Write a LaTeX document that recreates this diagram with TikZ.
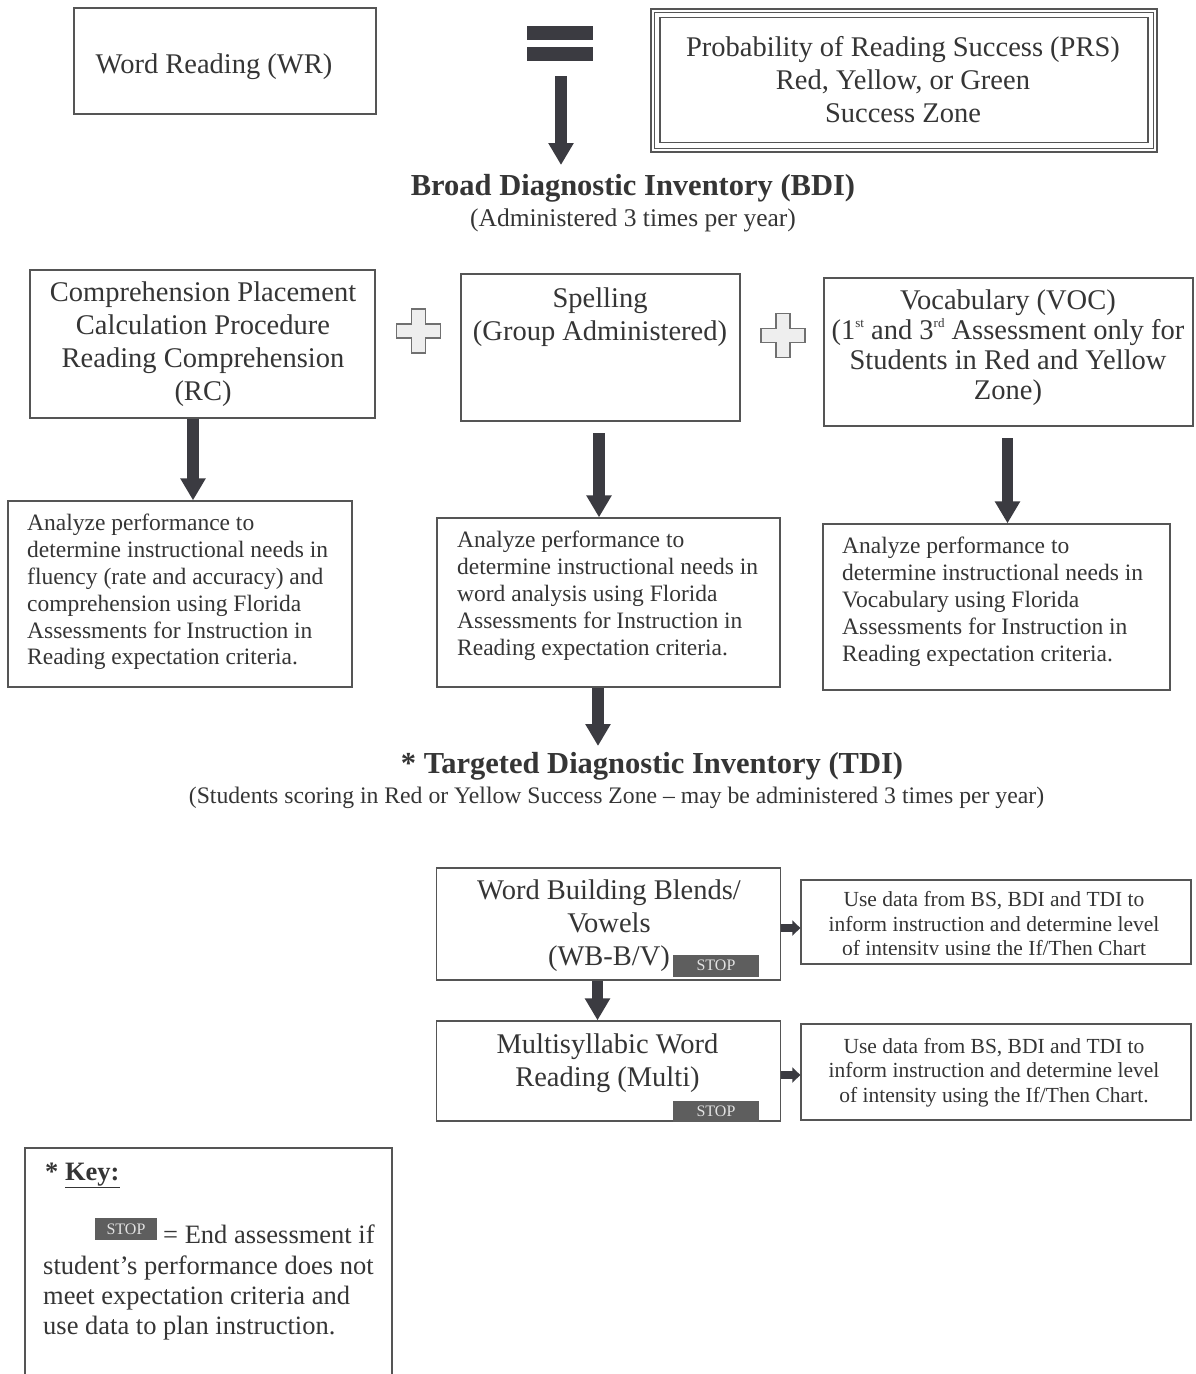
\documentclass[tikz,border=0pt]{standalone}
\usepackage{fontspec}
\setmainfont{Liberation Serif}
\usetikzlibrary{arrows.meta}

\definecolor{ink}{HTML}{353535}
\definecolor{frame}{HTML}{555555}
\definecolor{arrowc}{HTML}{3B3B41}
\definecolor{stopc}{HTML}{5E5E5E}
\definecolor{stoptext}{HTML}{E2E2E2}
\definecolor{plusfill}{HTML}{EEEEEE}
\definecolor{plusline}{HTML}{707070}

\newcommand{\szMain}{\fontsize{28.5}{33}\selectfont}
\newcommand{\szTitle}{\fontsize{30.5}{34}\selectfont\bfseries}
\newcommand{\szSub}{\fontsize{25.5}{30}\selectfont}
\newcommand{\szSubTdi}{\fontsize{23.7}{28}\selectfont}
\newcommand{\szNote}{\fontsize{23.5}{26.9}\selectfont}
\newcommand{\szUse}{\fontsize{21.5}{24.6}\selectfont}
\newcommand{\szKey}{\fontsize{26.5}{30}\selectfont}
\newcommand{\szStop}{\fontsize{16}{18}\selectfont}
% small ordinal suffix
\newcommand{\ordsuf}[1]{\raisebox{0.42em}{\fontsize{13}{13}\selectfont #1}}

\begin{document}
\begin{tikzpicture}[x=1pt,y=-1pt,
  boxnode/.style={draw=frame, line width=1.3pt, fill=none, inner sep=0pt,
                  minimum width=#1},
  txt/.style={text=ink, inner sep=0pt},
  bigarrow/.style={draw=arrowc, line width=11.5pt,
                   -{Triangle[width=24pt,length=22pt]}},
  smallarrow/.style={draw=arrowc, line width=8pt,
                     -{Triangle[width=15pt,length=8pt]}},
  barnode/.style={fill=arrowc, draw=none, inner sep=0pt,
                  minimum width=66pt, minimum height=14pt},
  stopbox/.style={fill=stopc, draw=none, inner sep=0pt, text=stoptext,
                  font=\szStop},
  plusnode/.style={draw=none, inner sep=0pt, minimum size=44pt}
]
\useasboundingbox (0,0) rectangle (1196,1374);
\fill[white] (0,0) rectangle (1196,1374);

% ---------- top row ----------
\node[boxnode=302pt, minimum height=106pt] (wr) at (225,61) {};
\node[txt, font=\szMain] (wrt) at (214,67) {Word Reading (WR)};

\node[barnode] (eqtop) at (559.5,33) {};
\node[barnode] (eqbot) at (559.5,53.5) {};
\coordinate (eqfoot) at (561,76);
\coordinate (eqtip) at (561,165);
\draw[bigarrow] (eqfoot) -- (eqtip);

\node[boxnode=506pt, minimum height=143pt, line width=2pt] (prs) at (904,80) {};
\draw[frame, line width=1pt] ([shift={(4.5,4.5)}]prs.north west) rectangle ([shift={(-4.5,-4.5)}]prs.south east);
\draw[frame, line width=1.2pt] ([shift={(10,10)}]prs.north west) rectangle ([shift={(-10,-10)}]prs.south east);
\node[txt, font=\szMain, align=center] (prst) at (903,80)
  {Probability of Reading Success (PRS)\\Red, Yellow, or Green\\Success Zone};

% ---------- broad diagnostic inventory ----------
\node[txt, font=\szTitle] (bdi) at (633,188) {Broad Diagnostic Inventory (BDI)};
\node[txt, font=\szSub] (bdisub) at (633,220) {(Administered 3 times per year)};

\node[boxnode=345pt, minimum height=148pt] (rc) at (202.5,344) {};
\node[txt, font=\szMain, align=center] (rct) at (203,344.5)
  {Comprehension Placement\\Calculation Procedure\\Reading Comprehension\\(RC)};

\node[boxnode=279pt, minimum height=147pt] (sp) at (600.5,347.5) {};
\node[txt, font=\szMain, align=center] (spt) at (600,317.5)
  {Spelling\\(Group Administered)};

\node[boxnode=369pt, minimum height=148pt] (voc) at (1008.5,352) {};
\node[txt, font=\fontsize{28.5}{30}\selectfont, align=center] (voct) at (1008,348)
  {Vocabulary (VOC)\\(1\ordsuf{st} and 3\ordsuf{rd} Assessment only for\\Students in Red and Yellow\\Zone)};

% plus signs between the three measures
\foreach \nm/\cx/\cy in {plusa/418.5/331, plusb/783/335.5}{
  \node[plusnode] (\nm) at (\cx,\cy) {};
  \draw[plusline, fill=plusfill, line width=1.4pt]
    ([shift={(-7,-22)}]\nm.center) -- ([shift={(7,-22)}]\nm.center) --
    ([shift={(7,-7)}]\nm.center) -- ([shift={(22,-7)}]\nm.center) --
    ([shift={(22,7)}]\nm.center) -- ([shift={(7,7)}]\nm.center) --
    ([shift={(7,22)}]\nm.center) -- ([shift={(-7,22)}]\nm.center) --
    ([shift={(-7,7)}]\nm.center) -- ([shift={(-22,7)}]\nm.center) --
    ([shift={(-22,-7)}]\nm.center) -- ([shift={(-7,-7)}]\nm.center) -- cycle;
}

% ---------- analysis boxes ----------
\node[boxnode=344pt, minimum height=186pt] (a1) at (180,594) {};
\node[txt, font=\szNote, align=left, anchor=west] (a1t) at (27,592)
  {Analyze performance to\\determine instructional needs in\\fluency (rate and accuracy) and\\comprehension using Florida\\Assessments for Instruction in\\Reading expectation criteria.};

\node[boxnode=343pt, minimum height=169pt] (a2) at (608.5,602.5) {};
\node[txt, font=\szNote, align=left, anchor=west] (a2t) at (457,596)
  {Analyze performance to\\determine instructional needs in\\word analysis using Florida\\Assessments for Instruction in\\Reading expectation criteria.};

\node[boxnode=347pt, minimum height=166pt] (a3) at (996.5,607) {};
\node[txt, font=\szNote, align=left, anchor=west] (a3t) at (842,602)
  {Analyze performance to\\determine instructional needs in\\Vocabulary using Florida\\Assessments for Instruction in\\Reading expectation criteria.};

\draw[bigarrow] (193,0 |- rc.south) -- (193,0 |- a1.north);
\draw[bigarrow] (599,433) -- (599,0 |- a2.north);
\draw[bigarrow] (1007.5,438) -- (1007.5,0 |- a3.north);

% ---------- targeted diagnostic inventory ----------
\coordinate (tditip) at (598,746);
\draw[bigarrow] (598,0 |- a2.south) -- (tditip);
\node[txt, font=\szTitle] (tdi) at (652,766) {* Targeted Diagnostic Inventory (TDI)};
\node[txt, font=\szSubTdi] (tdisub) at (616.5,798)
  {(Students scoring in Red or Yellow Success Zone -- may be administered 3 times per year)};

\node[boxnode=344pt, minimum height=112pt] (wb) at (608.5,924) {};
\node[txt, font=\szMain, align=center] (wbt) at (609,925.5)
  {Word Building Blends/\\Vowels\\(WB-B/V)};
\node[stopbox, minimum width=86pt, minimum height=22pt] (stopa) at (716,965.5) {STOP};

\node[boxnode=390pt, minimum height=84pt] (ud1) at (996,922) {};
\begin{scope}
  \clip (ud1.north west) rectangle ([yshift=10pt]ud1.south east);
  \node[txt, font=\szUse, align=center] (ud1t) at (994,926)
    {Use data from BS, BDI and TDI to\\inform instruction and determine level\\of intensity using the If/Then Chart};
\end{scope}

\node[boxnode=344pt, minimum height=100pt] (mu) at (608.5,1071) {};
\node[txt, font=\szMain, align=center] (mut) at (607.5,1063.5)
  {Multisyllabic Word\\Reading (Multi)};
\node[stopbox, minimum width=86pt, minimum height=21pt] (stopb) at (716,1111) {STOP};

\node[boxnode=390pt, minimum height=96pt] (ud2) at (996,1072) {};
\node[txt, font=\szUse, align=center] (ud2t) at (994,1072.5)
  {Use data from BS, BDI and TDI to\\inform instruction and determine level\\of intensity using the If/Then Chart.};

\draw[bigarrow] (597.5,0 |- wb.south) -- (597.5,0 |- mu.north);
\draw[smallarrow] (wb.east |- 0,928) -- (ud1.west |- 0,928);
\draw[smallarrow] (mu.east |- 0,1075) -- (ud2.west |- 0,1075);

% ---------- key ----------
\draw[frame, line width=1.3pt] (25,1374) -- (25,1148) -- (392,1148) -- (392,1374);
\node[txt, font=\szKey\bfseries, anchor=base west] (keyt) at (45,1180)
  {* \underline{Key:}};
\node[stopbox, minimum width=62pt, minimum height=22pt] (stopk) at (126,1229) {STOP};
\node[txt, font=\szKey, anchor=base west] (keya) at (163,1243) {= End assessment if};
\node[txt, font=\szKey, anchor=base west] (keyb) at (43,1274) {student’s performance does not};
\node[txt, font=\szKey, anchor=base west] (keyc) at (43,1304) {meet expectation criteria and};
\node[txt, font=\szKey, anchor=base west] (keyd) at (43,1334) {use data to plan instruction.};
\end{tikzpicture}
\end{document}
